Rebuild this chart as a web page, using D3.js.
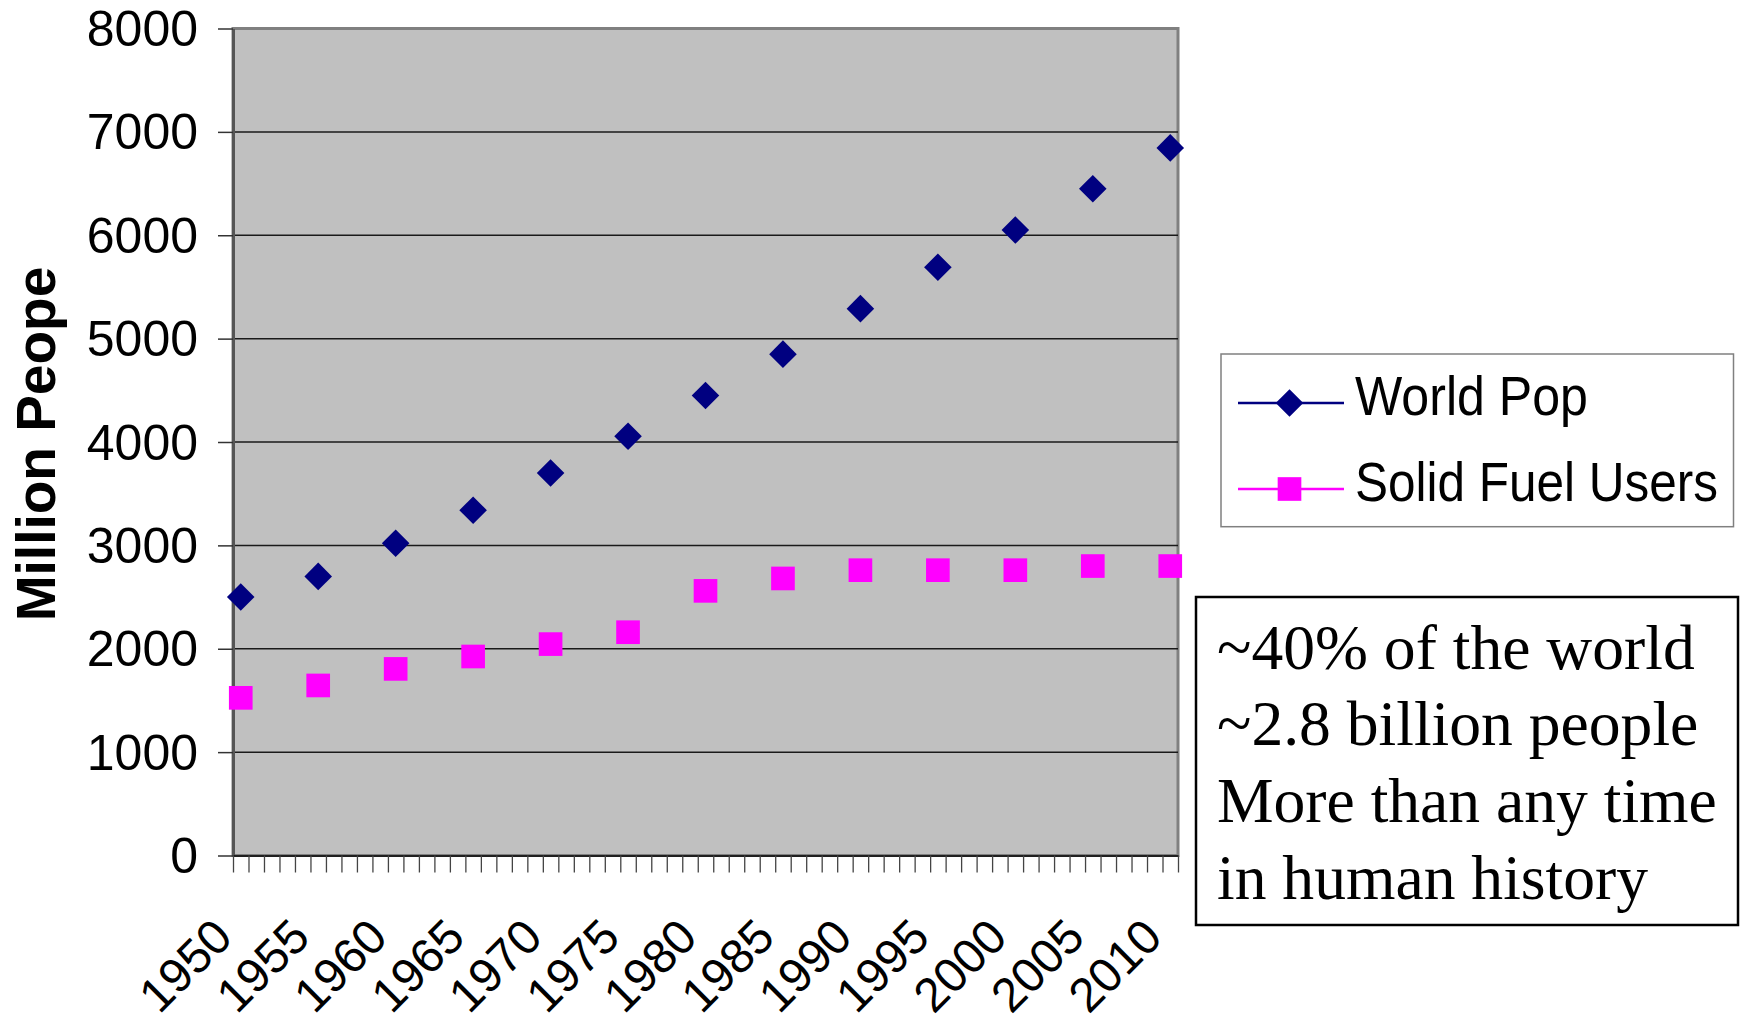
<!DOCTYPE html>
<html>
<head>
<meta charset="utf-8">
<script src="https://cdn.jsdelivr.net/npm/d3@7"></script>
<style>
  body { margin: 0; background: #fff; }
</style>
</head>
<body>
<svg id="chart"></svg>
<script>
// years that carry a value (every fifth category)
const years = [1950, 1955, 1960, 1965, 1970, 1975, 1980, 1985, 1990, 1995, 2000, 2005, 2010];
// million people
const worldPop = [2500, 2700, 3020, 3340, 3700, 4055, 4450, 4850, 5290, 5690, 6050, 6450, 6845];
const solidFuel = [1525, 1645, 1805, 1925, 2045, 2160, 2560, 2680, 2760, 2760, 2760, 2800, 2800];
const yTicks = [0, 1000, 2000, 3000, 4000, 5000, 6000, 7000, 8000];
const seriesNames = ["World Pop", "Solid Fuel Users"];
const noteLines = ["~40% of the world", "~2.8 billion people", "More than any time", "in human history"];

const sans = '"Liberation Sans", Arial, sans-serif';
const serif = '"Liberation Serif", "Times New Roman", serif';

const width = 1740, height = 1023;
const plot = { left: 233, right: 1178, top: 28.5, bottom: 855.5 };

const svg = d3.select('#chart')
  .attr('width', width)
  .attr('height', height);

// every year is a category, only the 5-year ones have points
const cats = d3.range(years[0], years[years.length - 1] + 1);
const x = d3.scaleBand().domain(cats).range([plot.left, plot.right]);
const xc = d => x(d) + x.bandwidth() / 2;
const y = d3.scaleLinear().domain([0, 8000]).range([plot.bottom, plot.top]);

// grey plot area
svg.append('rect')
  .attr('x', plot.left)
  .attr('y', plot.top)
  .attr('width', plot.right - plot.left)
  .attr('height', plot.bottom - plot.top)
  .attr('fill', '#c0c0c0')
  .attr('stroke', '#808080')
  .attr('stroke-width', 3);

// gridlines
svg.append('g')
  .selectAll('line')
  .data(yTicks.slice(1, -1))
  .join('line')
  .attr('x1', plot.left)
  .attr('x2', plot.right)
  .attr('y1', d => y(d))
  .attr('y2', d => y(d))
  .attr('stroke', '#1a1a1a')
  .attr('stroke-width', 1.5);

// y axis
const yAxis = svg.append('g')
  .attr('transform', `translate(${plot.left},0)`)
  .call(d3.axisLeft(y).tickValues(yTicks).tickFormat(d3.format('d'))
    .tickSize(15).tickSizeOuter(0).tickPadding(20));
yAxis.attr('font-family', sans).attr('font-size', 50);
yAxis.select('.domain').attr('stroke', '#555').attr('stroke-width', 3);
yAxis.selectAll('.tick line').attr('stroke', '#333').attr('stroke-width', 1.5);
yAxis.selectAll('.tick text').attr('fill', '#000').attr('dy', '0.34em');

// category boundary ticks
const xEdge = d3.scaleLinear().domain([0, cats.length]).range([plot.left, plot.right]);
const xTicks = svg.append('g')
  .attr('transform', `translate(0,${plot.bottom})`)
  .call(d3.axisBottom(xEdge).tickValues(d3.range(cats.length + 1)).tickSize(17).tickSizeOuter(0).tickFormat(''));
xTicks.select('.domain').attr('stroke', '#000').attr('stroke-width', 1.5);
xTicks.selectAll('.tick line').attr('stroke', '#444').attr('stroke-width', 1.3);

// rotated year labels
const xLabels = svg.append('g')
  .attr('transform', `translate(0,${plot.bottom})`)
  .call(d3.axisBottom(x).tickValues(years).tickSize(0));
xLabels.attr('font-family', sans).attr('font-size', 48);
xLabels.select('.domain').remove();
xLabels.selectAll('.tick text')
  .attr('fill', '#000')
  .attr('y', 0)
  .attr('dy', 0)
  .attr('text-anchor', 'end')
  .attr('transform', 'translate(-6,84) rotate(-45)');

// y title
svg.append('text')
  .attr('transform', 'translate(55,444) rotate(-90)')
  .attr('text-anchor', 'middle')
  .attr('font-family', sans)
  .attr('font-weight', 'bold')
  .attr('font-size', 55)
  .text('Million Peope');

// markers
const diamond = d3.symbol().type(d3.symbolSquare).size(380);
const square = d3.symbol().type(d3.symbolSquare).size(560);

svg.append('g')
  .selectAll('path')
  .data(years.map((yr, i) => ({ yr, v: solidFuel[i] })))
  .join('path')
  .attr('d', square)
  .attr('transform', d => `translate(${xc(d.yr)},${y(d.v)})`)
  .attr('fill', '#ff00ff');

svg.append('g')
  .selectAll('path')
  .data(years.map((yr, i) => ({ yr, v: worldPop[i] })))
  .join('path')
  .attr('d', diamond)
  .attr('transform', d => `translate(${xc(d.yr)},${y(d.v)}) rotate(45)`)
  .attr('fill', '#000080');

// legend
const legend = svg.append('g');
legend.append('rect')
  .attr('x', 1221)
  .attr('y', 354)
  .attr('width', 512.5)
  .attr('height', 172.7)
  .attr('fill', '#fff')
  .attr('stroke', '#808080')
  .attr('stroke-width', 1.5);

// legend text in the picture is narrower than plain Arial, squeeze it to the measured width
const legendRows = [
  { name: seriesNames[0], color: '#000080', sym: diamond, rot: 45, ly: 403, len: 233 },
  { name: seriesNames[1], color: '#ff00ff', sym: square, rot: 0, ly: 489, len: 363 }
];
legendRows.forEach(r => {
  legend.append('line')
    .attr('x1', 1238).attr('x2', 1344)
    .attr('y1', r.ly).attr('y2', r.ly)
    .attr('stroke', r.color)
    .attr('stroke-width', 2.5);
  legend.append('path')
    .attr('d', r.sym)
    .attr('transform', `translate(1289.5,${r.ly}) rotate(${r.rot})`)
    .attr('fill', r.color);
  const t = legend.append('text')
    .attr('font-family', sans)
    .attr('font-size', 55)
    .text(r.name);
  const k = Math.min(1, r.len / t.node().getComputedTextLength());
  t.attr('transform', `translate(1355,${r.ly + 11.5}) scale(${k},1)`);
});

// note box
svg.append('rect')
  .attr('x', 1196)
  .attr('y', 597)
  .attr('width', 542)
  .attr('height', 328)
  .attr('fill', '#fff')
  .attr('stroke', '#000')
  .attr('stroke-width', 2.5);

svg.append('g')
  .selectAll('text')
  .data(noteLines)
  .join('text')
  .attr('x', 1217)
  .attr('y', (d, i) => 668.5 + i * 76.7)
  .attr('font-family', serif)
  .attr('font-size', 63.6)
  .text(d => d);
</script>
</body>
</html>
